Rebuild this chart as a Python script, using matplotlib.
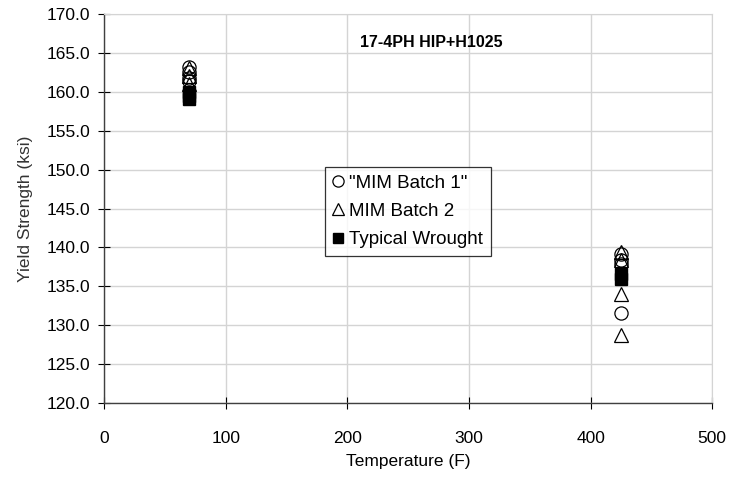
import matplotlib.pyplot as plt
import numpy as np

plt.rcParams["font.family"] = ["Liberation Sans", "DejaVu Sans"]

# Yield strength readings (ksi) at test temperature (F)
batch1_temp = [70, 70, 70, 70, 425, 425, 425, 425]
batch1_ys = [163.2, 162.5, 161.8, 161.4, 139.2, 138.4, 137.9, 131.6]

batch2_temp = [70, 70, 70, 425, 425, 425, 425]
batch2_ys = [163.0, 162.0, 161.0, 139.4, 138.4, 134.0, 128.8]

wrought_temp = [70, 70, 70, 425, 425]
wrought_ys = [160.0, 159.5, 159.1, 136.6, 135.9]

x_ticks = np.arange(0, 501, 100)
y_ticks = np.arange(120, 170.1, 5)

fig, ax = plt.subplots(figsize=(7.29, 4.8), dpi=100)
fig.subplots_adjust(left=0.143, right=0.977, top=0.971, bottom=0.160)

ax.plot(batch1_temp, batch1_ys, linestyle="none", marker="o", markersize=9.5,
        markerfacecolor="none", markeredgecolor="black", markeredgewidth=0.9,
        label='"MIM Batch 1"', zorder=3)
ax.plot(batch2_temp, batch2_ys, linestyle="none", marker="^", markersize=9.5,
        markerfacecolor="none", markeredgecolor="black", markeredgewidth=0.9,
        label="MIM Batch 2", zorder=3)
ax.plot(wrought_temp, wrought_ys, linestyle="none", marker="s", markersize=8.5,
        markerfacecolor="black", markeredgecolor="black",
        label="Typical Wrought", zorder=3)

ax.set_xlim(0, 500)
ax.set_ylim(120, 170)
ax.set_xticks(x_ticks)
ax.set_yticks(y_ticks)
ax.set_yticklabels([f"{v:.1f}" for v in y_ticks])
ax.tick_params(axis="both", direction="inout", length=8, width=0.8,
               labelsize=12.5, colors="black")
ax.tick_params(axis="x", pad=16)
ax.tick_params(axis="y", pad=6)

ax.grid(True, color="#d4d4d4", linewidth=1.0)
ax.set_axisbelow(True)
for side in ["top", "right"]:
    ax.spines[side].set_color("#d4d4d4")
for side in ["left", "bottom"]:
    ax.spines[side].set_color("#404040")
    ax.spines[side].set_linewidth(1.0)

ax.set_xlabel("Temperature (F)", fontsize=12.5, labelpad=6)
ax.set_ylabel("Yield Strength (ksi)", fontsize=12.5, color="#333333",
              labelpad=10)

ax.text(269, 166.3, "17-4PH HIP+H1025", fontsize=11.5, fontweight="bold",
        ha="center", va="center")

leg = ax.legend(loc="upper left", bbox_to_anchor=(0.363, 0.607), fontsize=13.5,
                frameon=True, fancybox=False, handlelength=0.55,
                handletextpad=0.35, borderpad=0.4, labelspacing=0.6,
                borderaxespad=0, markerscale=0.85)
leg.get_frame().set_edgecolor("black")
leg.get_frame().set_linewidth(0.9)

fig.savefig("out.png", dpi=100)
